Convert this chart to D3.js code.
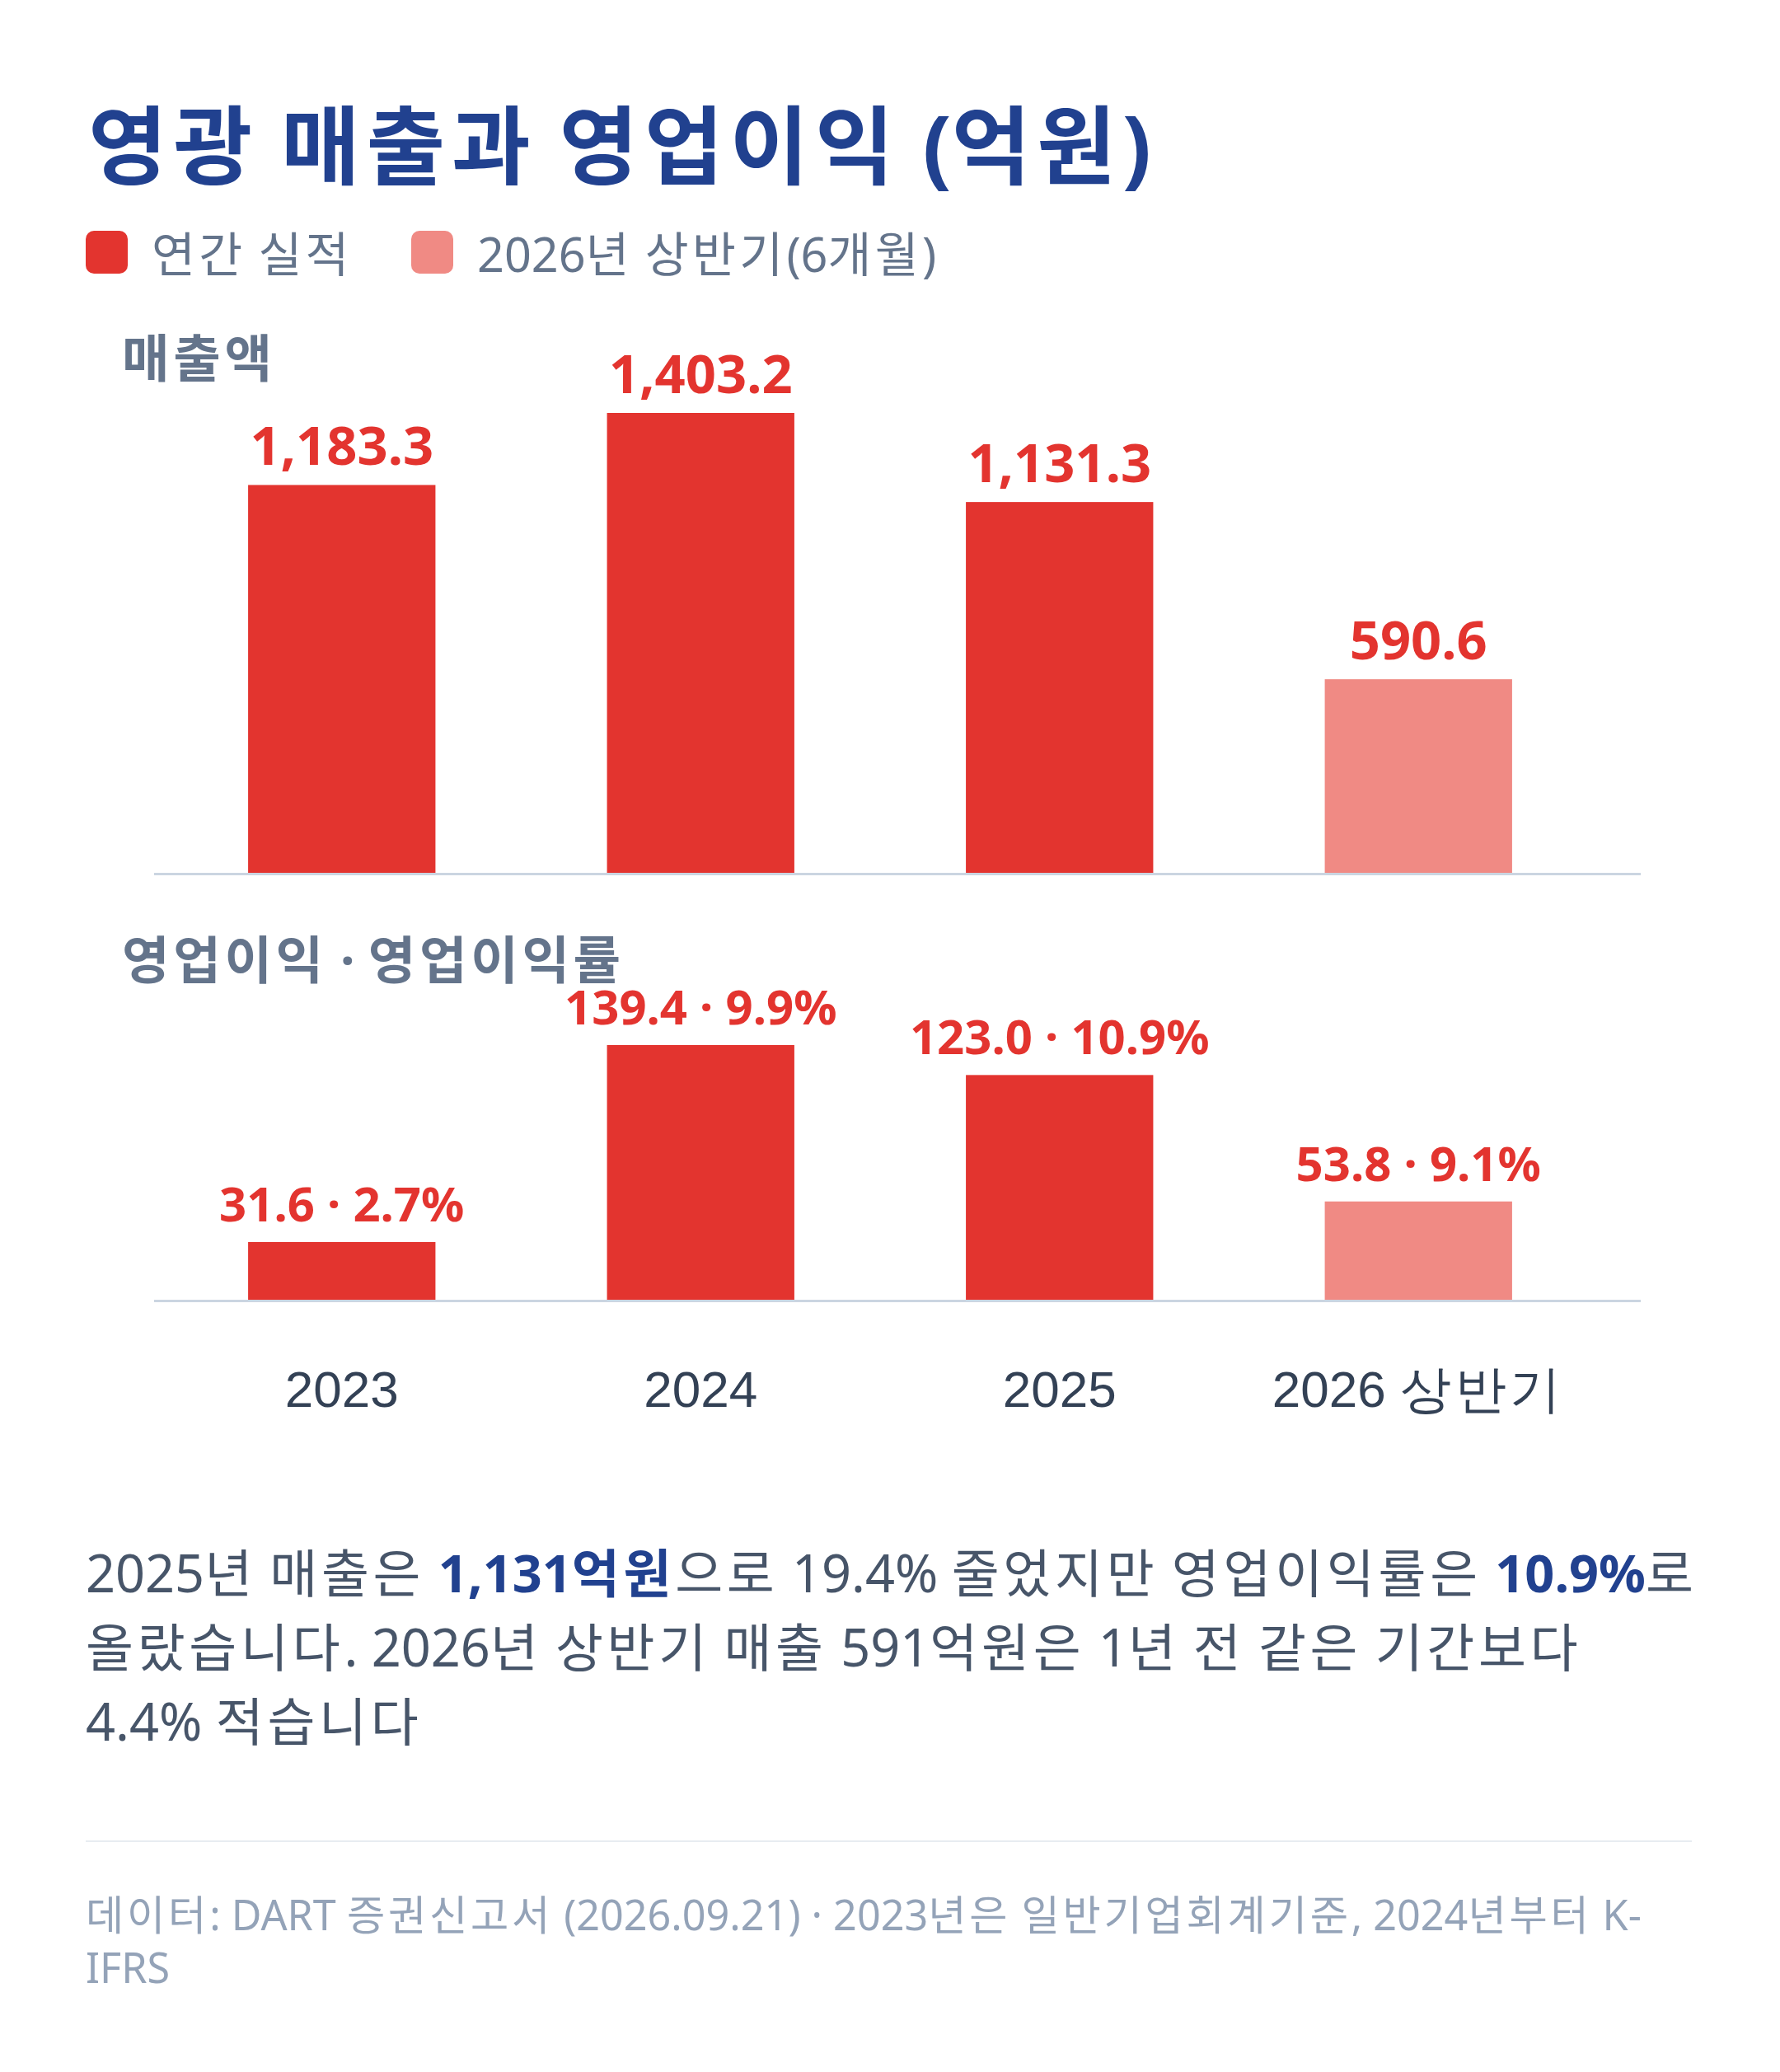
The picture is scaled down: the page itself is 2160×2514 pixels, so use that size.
<!DOCTYPE html>
<html lang="ko">
<head>
<meta charset="utf-8">
<script src="https://cdn.jsdelivr.net/npm/d3@7"></script>
<style>
  html, body { margin: 0; padding: 0; background: #fff; }
  svg { display: block; font-family: "Noto Sans", "Noto Sans CJK KR", sans-serif; }
</style>
</head>
<body>
<div id="chart"></div>
<script>
// data
const categories = ["2023", "2024", "2025", "2026 상반기"];
const revenue = [1183.3, 1403.2, 1131.3, 590.6];
const opProfit = [31.6, 139.4, 123.0, 53.8];
const opMargin = [2.7, 9.9, 10.9, 9.1];
const periodType = ["annual", "annual", "annual", "half"];
const legendLabels = ["연간 실적", "2026년 상반기(6개월)"];

const width = 2160, height = 2514;
const red = "#e3342f", lightRed = "#f08a84";
const navy = "#21418f";

// hangul runs get a little tracking so they sit on a full em like the original
const hangulRe = /([\u1100-\u11FF\u3130-\u318F\uAC00-\uD7A3]+)/;
function rich(sel, str, attrs) {
  str.split(hangulRe).filter(s => s.length).forEach(part => {
    const t = sel.append("tspan").text(part);
    if (hangulRe.test(part)) t.attr("letter-spacing", "0.075em");
    if (attrs) Object.entries(attrs).forEach(([k, v]) => t.attr(k, v));
  });
  return sel;
}

const svg = d3.select("#chart").append("svg")
  .attr("width", width)
  .attr("height", height);

svg.append("rect").attr("width", width).attr("height", height).attr("fill", "#fff");

// title
rich(svg.append("text")
  .attr("x", 107).attr("y", 216)
  .attr("font-size", 104).attr("font-weight", 700)
  .attr("fill", navy), "영광 매출과 영업이익 (억원)");

// legend
const legendColor = d3.scaleOrdinal().domain(["annual", "half"]).range([red, lightRed]);
const legendX = [104, 499];
const lg = svg.append("g").selectAll("g")
  .data(legendLabels)
  .join("g")
  .attr("transform", (d, i) => `translate(${legendX[i]},280)`);
lg.append("rect")
  .attr("width", 51).attr("height", 52).attr("rx", 10)
  .attr("fill", (d, i) => legendColor.range()[i]);
lg.append("text")
  .attr("x", 80).attr("y", 50)
  .attr("font-size", 57.5).attr("fill", "#64748b")
  .each(function(d) { rich(d3.select(this), d); });

// x scale shared by both panels
const x = d3.scaleBand()
  .domain(categories)
  .range([197, 1939])
  .paddingInner(0.478)
  .paddingOuter(0.239);

const fmtRev = d3.format(",.1f");
const fmt1 = d3.format(".1f");

function panel(opts) {
  const g = svg.append("g");
  const y = d3.scaleLinear().domain([0, d3.max(opts.values)]).range([opts.base, opts.top]);

  rich(g.append("text")
    .attr("x", 148).attr("y", opts.labelY)
    .attr("font-size", 62.5).attr("font-weight", 700)
    .attr("fill", "#64748b"), opts.title);

  g.selectAll("rect.bar")
    .data(opts.values)
    .join("rect")
    .attr("class", "bar")
    .attr("x", (d, i) => x(categories[i]))
    .attr("width", x.bandwidth())
    .attr("y", d => y(d))
    .attr("height", d => y(0) - y(d))
    .attr("fill", (d, i) => legendColor(periodType[i]));

  g.append("line")
    .attr("x1", 187).attr("x2", 1991)
    .attr("y1", y(0) + 1.5).attr("y2", y(0) + 1.5)
    .attr("stroke", "#cbd5e1").attr("stroke-width", 3);

  g.selectAll("text.val")
    .data(opts.values)
    .join("text")
    .attr("class", "val")
    .attr("x", (d, i) => x(categories[i]) + x.bandwidth() / 2)
    .attr("y", d => y(d) - opts.gap)
    .attr("text-anchor", "middle")
    .attr("font-size", opts.valSize).attr("font-weight", 700)
    .attr("fill", red)
    .text((d, i) => opts.label(d, i));
  return y;
}

panel({
  title: "매출액", values: revenue, base: 1059, top: 501, labelY: 458,
  gap: 24, valSize: 65, label: d => fmtRev(d)
});

panel({
  title: "영업이익 · 영업이익률", values: opProfit, base: 1577, top: 1268, labelY: 1188,
  gap: 25, valSize: 58, label: (d, i) => `${fmt1(d)} · ${fmt1(opMargin[i])}%`
});

// x axis labels
const xAxis = d3.axisBottom(x).tickSize(0).tickPadding(0);
const xg = svg.append("g").attr("transform", "translate(0,1707)").call(xAxis);
xg.select(".domain").remove();
xg.selectAll("text")
  .attr("y", 0).attr("dy", 0)
  .attr("font-size", 62)
  .attr("font-family", null)
  .attr("fill", "#334155")
  .each(function(d) {
    const t = d3.select(this).text("");
    rich(t, d);
  });

// summary paragraph
const para = [
  [["2025년 매출은 ", false], ["1,131억원", true], ["으로 19.4% 줄었지만 영업이익률은 ", false], ["10.9%", true], ["로", false]],
  [["올랐습니다. 2026년 상반기 매출 591억원은 1년 전 같은 기간보다", false]],
  [["4.4% 적습니다", false]]
];
const pt = svg.append("text")
  .attr("font-size", 63).attr("fill", "#475569");
para.forEach((line, li) => {
  const row = pt.append("tspan").attr("x", 104).attr("y", 1932 + li * 90);
  line.forEach(seg => {
    rich(row, seg[0], seg[1] ? { "font-weight": 700, fill: navy } : null);
  });
});

// divider
svg.append("line")
  .attr("x1", 104).attr("x2", 2053)
  .attr("y1", 2234).attr("y2", 2234)
  .attr("stroke", "#e8ecf1").attr("stroke-width", 2);

// footer
const footer = ["데이터: DART 증권신고서 (2026.09.21) · 2023년은 일반기업회계기준, 2024년부터 K-", "IFRS"];
svg.append("g").selectAll("text")
  .data(footer)
  .join("text")
  .attr("x", 104).attr("y", (d, i) => 2342 + i * 64)
  .attr("font-size", 50.3).attr("fill", "#94a3b8")
  .each(function(d) { rich(d3.select(this), d); });
</script>
</body>
</html>
